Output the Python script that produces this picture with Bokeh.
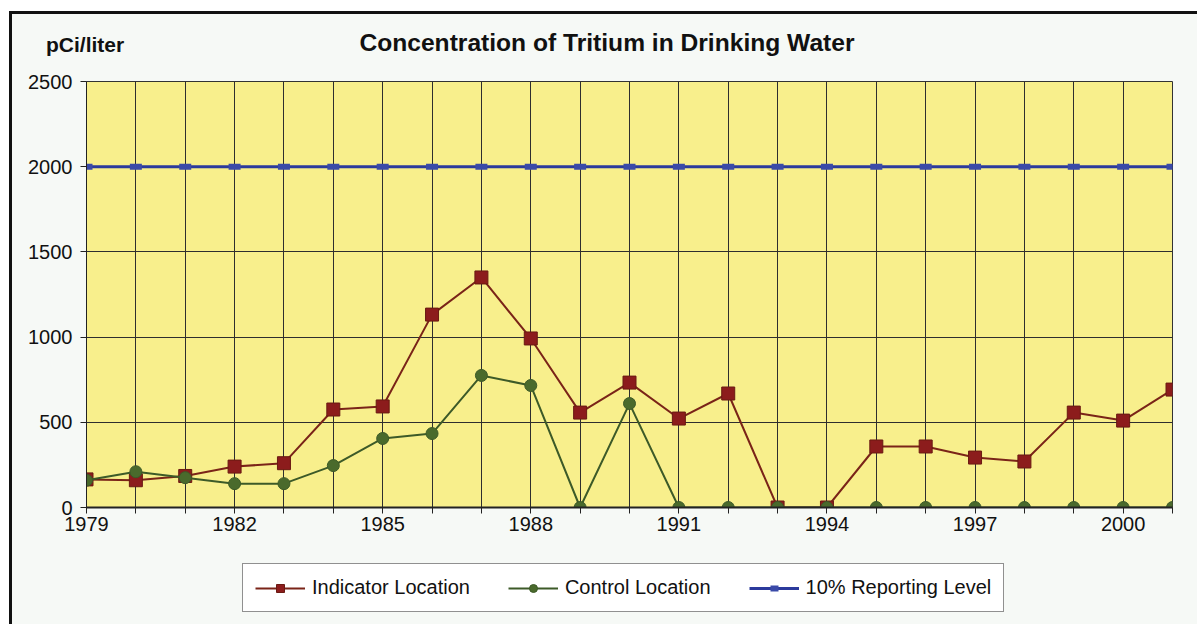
from bokeh.plotting import figure
from bokeh.models import Range1d, FixedTicker, Legend, LegendItem, Div
from bokeh.layouts import column
from bokeh.embed import file_html
from bokeh.resources import INLINE

years = list(range(1979, 2002))
indicator = [165, 160, 185, 240, 260, 575, 593, 1132, 1350, 992, 557, 733, 522, 669,
             0, 0, 358, 358, 293, 270, 557, 510, 692]
control = [160, 210, 175, 140, 140, 246, 405, 434, 775, 716, 0, 610, 0, 0,
           0, 0, 0, 0, 0, 0, 0, 0, 0]
reporting = [2000] * len(years)
y_ticks = [0, 500, 1000, 1500, 2000, 2500]
label_years = [1979, 1982, 1985, 1988, 1991, 1994, 1997, 2000]
series_names = ["Indicator Location", "Control Location", "10% Reporting Level"]

FONT = "Liberation Sans"
BG = "#f6f9f6"

header = Div(
    text=(
        '<div style="position:relative;width:1185px;height:55px;'
        'font-family:\'Liberation Sans\';font-weight:bold;color:#111111;">'
        '<span style="position:absolute;left:34px;top:19px;font-size:21px;line-height:24px;">pCi/liter</span>'
        '<span style="position:absolute;left:0px;top:15px;width:1190px;text-align:center;'
        'font-size:24.6px;line-height:28px;">Concentration of Tritium in Drinking Water</span>'
        '</div>'
    ),
    width=1185, height=55, styles={"margin": "0", "padding": "0"},
)

p = figure(frame_width=1086, frame_height=426, output_backend="svg", toolbar_location=None,
           x_range=Range1d(1979, 2001), y_range=Range1d(0, 2500),
           min_border_left=74, min_border_right=25, min_border_top=12, min_border_bottom=33)
p.background_fill_color = "#f8ef8c"
p.border_fill_color = BG
p.outline_line_color = "#333333"
p.outline_line_width = 1

# axes
p.xaxis.ticker = FixedTicker(ticks=years)
p.xaxis.major_label_overrides = {y: (str(y) if y in label_years else "") for y in years}
p.yaxis.ticker = FixedTicker(ticks=y_ticks)
for ax in (p.xaxis[0], p.yaxis[0]):
    ax.major_label_text_font = FONT
    ax.major_label_text_font_size = "20px"
    ax.major_label_text_color = "#111111"
    ax.axis_line_color = "#222222"
    ax.major_tick_line_color = "#222222"
    ax.major_tick_in = 0
    ax.major_tick_out = 6
    ax.minor_tick_line_color = None
p.xaxis.axis_line_width = 2
p.yaxis.axis_line_width = 1
p.xaxis.major_label_standoff = 3
p.yaxis.major_label_standoff = 8

p.xgrid.grid_line_color = "#2e2e2e"
p.ygrid.grid_line_color = "#2e2e2e"
p.xgrid.grid_line_width = 1
p.ygrid.grid_line_width = 1

STY = {
    "rep_line": dict(line_color="#2b3a9c", line_width=3),
    "rep_mark": dict(marker="dash", size=12, line_width=6, line_color="#3a4aa8"),
    "ind_line": dict(line_color="#7a2418", line_width=2),
    "ind_mark": dict(marker="square", size=13, fill_color="#8c1c1c", line_color="#6a1a12", line_width=1),
    "con_line": dict(line_color="#3d5a28", line_width=2),
    "con_mark": dict(marker="circle", size=12, fill_color="#4a6a2c", line_color="#3d5a28", line_width=1),
}


def draw(fig):
    r = (fig.line(years, reporting, **STY["rep_line"]), fig.scatter(years, reporting, **STY["rep_mark"]))
    i = (fig.line(years, indicator, **STY["ind_line"]), fig.scatter(years, indicator, **STY["ind_mark"]))
    c = (fig.line(years, control, **STY["con_line"]), fig.scatter(years, control, **STY["con_mark"]))
    return i, c, r


draw(p)

# legend strip below the chart (its own figure, so the legend box is not clipped)
lf = figure(frame_width=1086, frame_height=84, output_backend="svg", toolbar_location=None,
            x_range=Range1d(0, 1), y_range=Range1d(0, 1),
            min_border_left=74, min_border_right=25, min_border_top=0, min_border_bottom=0)
lf.axis.visible = False
lf.grid.visible = False
lf.outline_line_color = None
lf.background_fill_color = BG
lf.border_fill_color = BG
li, lc, lr = draw(lf)

legend = Legend(items=[
    LegendItem(label=series_names[0], renderers=list(li)),
    LegendItem(label=series_names[1], renderers=list(lc)),
    LegendItem(label=series_names[2], renderers=list(lr)),
], orientation="horizontal", location=(156, 12))
legend.label_text_font = FONT
legend.label_text_font_size = "20px"
legend.label_text_color = "#111111"
legend.glyph_width = 50
legend.glyph_height = 20
legend.label_standoff = 7
legend.spacing = 38
legend.padding = 12
legend.margin = 0
legend.border_line_color = "#222222"
legend.border_line_width = 1
legend.background_fill_color = "#ffffff"
legend.background_fill_alpha = 1
lf.add_layout(legend, "center")

layout = column(header, p, lf, spacing=0,
                styles={"margin-left": "9px", "margin-top": "11px",
                        "border-left": "3px solid #111111", "border-top": "3px solid #111111",
                        "background-color": BG})

open("out.html", "w").write(file_html(layout, INLINE))
